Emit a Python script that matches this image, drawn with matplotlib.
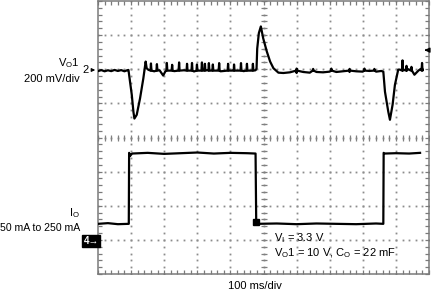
import numpy as np
import matplotlib
matplotlib.use("Agg")
import matplotlib.pyplot as plt

plt.rcParams["font.family"] = ["Liberation Sans", "DejaVu Sans"]
plt.rcParams["mathtext.default"] = "regular"

# ---------------------------------------------------------------------------
# Scope settings (100 ms/div, 8 x 10 divisions)
# ---------------------------------------------------------------------------
MS_PER_DIV = 100.0
VO_MV_PER_DIV = 200.0
IO_MA_PER_DIV = 100.0
VO_ZERO_DIV = 5.96      # channel 2 marker level
IO_GND_DIV = 0.91       # channel 4 marker level

# ---------------------------------------------------------------------------
# VO1 ripple (mV around nominal) vs time (ms)
# ---------------------------------------------------------------------------
vo_t = [0, 10, 20, 30, 40, 50, 60, 70, 80, 88, 92,
        102, 107, 110, 117, 127, 137, 144, 147, 152, 170, 186, 197, 203,
        230, 260, 290, 330, 370, 410, 440, 476,
        479, 481, 486, 492, 499, 510, 520, 530, 545,
        560, 580, 600, 620, 640, 660, 680, 700, 720, 740, 760, 780, 800,
        820, 840, 856, 862,
        867, 877, 882, 890, 897, 907, 912, 924, 935, 945, 956, 968, 975, 981]
vo_mv = [-3, 3, -4, 2, -3, 4, -2, 3, -4, 2, 4,
         -141, -241, -281, -259, -163, -45, 53, 14, 5, -4, 2, -29, -6,
         -3, 2, -5, 3, -4, 2, -3, 2,
         12, 129, 220, 259, 190, 112, 53, 14, -12,
         -14, -10, -14, -8, -12, -8, -10, -6, -8, -4, -8, -4, -6,
         -2, -6, -2, -6,
         -124, -241, -288, -200, -84, 6, 6, 5, 10, 0, -24, 0, 10, 5]

# upward noise spikes on the VO1 trace
spike_t = [160, 178, 208, 224, 245, 269, 284, 299, 314, 323, 335, 347,
           366, 393, 411, 432, 450, 468,
           600, 650, 705, 760, 805, 835,
           920, 932, 947, 979]
spike_mv = [42, 38, 45, 34, 48, 40, 45, 36, 48, 40, 44, 36,
            44, 40, 36, 44, 40, 40,
            12, 10, 12, 10, 12, 10,
            60, 28, 22, 45]

# ---------------------------------------------------------------------------
# IO load step (mA) vs time (ms)
# ---------------------------------------------------------------------------
io_t = [0, 30, 60, 93, 94, 97, 103, 150, 200, 250, 300, 350, 400, 450,
        476, 478, 481, 540, 600, 660, 720, 780, 840, 862, 863, 866, 900,
        940, 973]
io_ma = [56, 58, 55, 56, 264, 255, 262, 264, 261, 263, 265, 262, 264, 263,
         262, 60, 56, 57, 55, 57, 56, 55, 57, 56, 264, 262, 263, 262, 264]


def fpx(x, y):
    return x / 432.0, 1.0 - y / 292.0


fig = plt.figure(figsize=(4.32, 2.92), dpi=100)
ax = fig.add_axes([98 / 432, 1 - 274 / 292, 331 / 432, 273 / 292])
ax.set_xlim(0, 10 * MS_PER_DIV)
ax.set_ylim(0, 8)

# dotted graticule
grid_c = "#8c8c8c"
xs = np.arange(0, 1000.1, 20)
ys = np.arange(0, 8.01, 0.2)
for i in range(1, 10):
    ax.plot(np.full_like(ys, i * 100), ys, ls="none", marker="s", ms=1.3,
            mec="none", color=grid_c, zorder=1)
for j in range(1, 8):
    ax.plot(xs, np.full_like(xs, j), ls="none", marker="s", ms=1.3,
            mec="none", color=grid_c, zorder=1)
# center cross with ticks
ax.plot(np.full_like(ys, 500), ys, ls="none", marker="_", ms=4.5, mew=0.9,
        color="#808080", zorder=1)
ax.plot(xs, np.full_like(xs, 4), ls="none", marker="|", ms=4.5, mew=0.9,
        color="#808080", zorder=1)

for s in ax.spines.values():
    s.set_color("#7a7a7a")
    s.set_linewidth(1.1)
ax.set_xticks(np.arange(0, 1001, 20))
ax.set_yticks(np.arange(0, 8.01, 0.2))
ax.tick_params(which="both", direction="in", length=3, width=0.9,
               color="#7a7a7a", top=True, right=True,
               labelbottom=False, labelleft=False)

# VO1 trace: merge base samples with spikes
pts = list(zip(vo_t, vo_mv))
for t, h in zip(spike_t, spike_mv):
    pts += [(t - 1.5, 0), (t, h), (t + 1.5, 0)]
pts.sort()
t_all = np.array([p[0] for p in pts])
v_all = np.array([p[1] for p in pts])
ax.plot(t_all, VO_ZERO_DIV + v_all / VO_MV_PER_DIV, color="black", lw=1.6,
        zorder=3)

# IO trace
ax.plot(io_t, IO_GND_DIV + np.array(io_ma) / IO_MA_PER_DIV, color="black",
        lw=1.6, zorder=3)
ax.plot([478], [IO_GND_DIV + 60 / IO_MA_PER_DIV], marker="s", ms=5,
        color="black", zorder=4)

# trigger level arrow on the right
ax.annotate("", xy=(978, 8 - 49 / 34), xytext=(1000, 8 - 49 / 34),
            arrowprops=dict(arrowstyle="-|>", color="black", lw=1.0,
                            mutation_scale=7), annotation_clip=False)

# channel labels
fs = 8
fig.text(*fpx(80, 63), r"$V_O$1", ha="right", va="center", fontsize=fs)
fig.text(*fpx(80, 79), "200 mV/div", ha="right", va="center", fontsize=fs)
fig.text(*fpx(89, 70), "2", ha="right", va="center", fontsize=fs)
ax.annotate("", xy=fpx(98, 70), xytext=fpx(89, 70), xycoords="figure fraction",
            textcoords="figure fraction",
            arrowprops=dict(arrowstyle="-|>", color="black", lw=0.8,
                            mutation_scale=5))

fig.text(*fpx(80, 213), r"$I_O$", ha="right", va="center", fontsize=fs)
fig.text(*fpx(80, 228), "50 mA to 250 mA", ha="right", va="center",
         fontsize=7.6)
fig.text(*fpx(91, 241), "4\u2192", ha="center", va="center", fontsize=7,
         color="white", fontweight="bold",
         bbox=dict(boxstyle="square,pad=0.1", fc="black", ec="black"))

# test conditions
fig.text(*fpx(274, 238), r"$V_I$ = 3.3 V", ha="left", va="center",
         fontsize=fs)
fig.text(*fpx(274, 253), r"$V_O$1 = 10 V, $C_O$ = 22 mF", ha="left",
         va="center", fontsize=fs)
fig.text(*fpx(255, 286), "100 ms/div", ha="center", va="center", fontsize=fs)

fig.savefig("out.png", dpi=100)
